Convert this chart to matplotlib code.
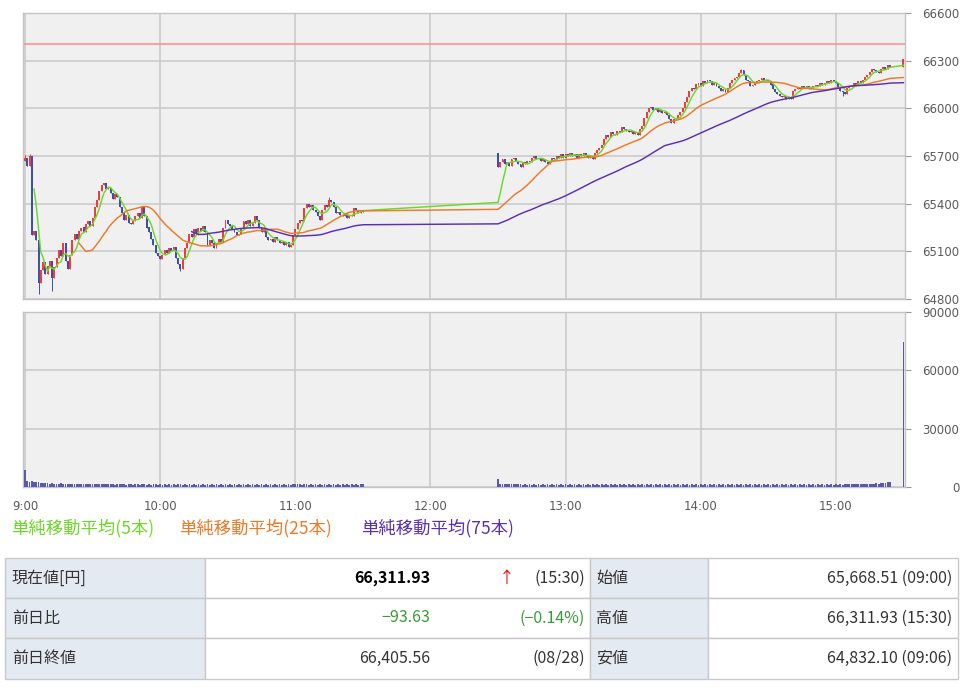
import matplotlib
matplotlib.use("Agg")
import matplotlib.pyplot as plt
from matplotlib.patches import Rectangle
import numpy as np
import pandas as pd

plt.rcParams['font.family'] = ['Noto Sans CJK JP', 'DejaVu Sans']

# ---------------- data (1-minute bars) ----------------
prev_close = 66405.56
am_open = 65668.51
pm_open = 65720.0

am_close = [
    65690, 65640, 65700, 65200, 65230, 65170, 64900, 64980, 65030, 64960,
    65010, 65040, 64930, 65000, 65060, 65110, 65070, 65150, 65040, 64990,
    65080, 65170, 65210, 65180, 65230, 65250, 65220, 65270, 65290, 65260,
    65310, 65380, 65420, 65480, 65520, 65530, 65490, 65500, 65470, 65430,
    65460, 65440, 65380, 65340, 65300, 65330, 65280, 65270, 65290, 65320,
    65340, 65310, 65380, 65320, 65250, 65220, 65180, 65140, 65090, 65070,
    65050, 65080, 65110, 65090, 65120, 65100, 65130, 65060, 65020, 64990,
    65060, 65120, 65150, 65210, 65190, 65240, 65210, 65250, 65230, 65260,
    65220, 65140, 65170, 65150, 65120, 65150, 65180, 65160, 65250, 65300,
    65270, 65260, 65240, 65220, 65200, 65210, 65250, 65290, 65270, 65300,
    65260, 65280, 65320, 65300, 65250, 65220, 65240, 65190, 65170, 65180,
    65160, 65190, 65170, 65150, 65160, 65140, 65160, 65130, 65140, 65200,
    65240, 65280, 65300, 65290, 65370, 65400, 65380, 65390, 65360, 65350,
    65320, 65300, 65360, 65390, 65380, 65420, 65410, 65380, 65340, 65350,
    65330, 65320, 65340, 65310, 65330, 65320, 65370, 65360, 65340, 65360,
    65350,
]

pm_close = [
    65630, 65660, 65680, 65650, 65660, 65640, 65680, 65690, 65670, 65650,
    65630, 65660, 65650, 65670, 65660, 65690, 65700, 65680, 65690, 65670,
    65680, 65660, 65650, 65670, 65690, 65680, 65700, 65690, 65710, 65690,
    65710, 65700, 65720, 65700, 65710, 65690, 65710, 65700, 65720, 65700,
    65690, 65700, 65680, 65720, 65740, 65750, 65770, 65810, 65830, 65820,
    65850, 65840, 65830, 65860, 65850, 65880, 65870, 65860, 65850, 65860,
    65840, 65850, 65830, 65870, 65890, 65940, 65980, 66000, 66010, 65990,
    66000, 65980, 65990, 65970, 65980, 65960, 65930, 65910, 65930, 65940,
    65960, 65980, 66000, 66040, 66070, 66110, 66130, 66120, 66150, 66160,
    66140, 66170, 66160, 66180, 66170, 66150, 66160, 66140, 66130, 66110,
    66120, 66100, 66130, 66160, 66180, 66190, 66200, 66220, 66240, 66210,
    66180, 66170, 66140, 66150, 66160, 66170, 66180, 66190, 66170, 66180,
    66170, 66150, 66120, 66100, 66090, 66080, 66070, 66080, 66060, 66070,
    66060, 66110, 66120, 66130, 66120, 66140, 66130, 66140, 66120, 66130,
    66140, 66150, 66140, 66160, 66150, 66160, 66170, 66160, 66180, 66170,
    66160, 66130, 66110, 66100, 66090, 66130, 66140, 66150, 66160, 66150,
    66170, 66160, 66180, 66200, 66210, 66230, 66250, 66240, 66230, 66220,
    66250, 66260, 66250, 66270, 66260,
    66311.93,
]

# extreme wicks (minute since 9:00 -> price)
wick_low = {6: 64832.10, 12: 64850, 69: 64975, 118: 65125, 363: 66075}
wick_high = {0: 65705, 2: 65710, 135: 65440, 318: 66245}

am_vol = [
    8800, 3300, 2700, 2900, 2500, 2600, 2800, 2200, 2000, 2300,
    1900, 1800, 2100, 1700, 1800, 1600, 1900, 1700, 1600, 1800,
    1500, 1700, 1600, 1400, 1600, 1500, 1700, 1400, 1500, 1600,
    1300, 1500, 1400, 1600, 1500, 1300, 1400, 1500, 1300, 1400,
    1200, 1400, 1300, 1500, 1300, 1200, 1400, 1300, 1200, 1400,
    1300, 1200, 1300, 1400, 1200, 1300, 1200, 1400, 1300, 1200,
    1300, 1200, 1400, 1200, 1300, 1200, 1300, 1200, 1400, 1300,
    1200, 1300, 1200, 1300, 1200, 1400, 1200, 1300, 1200, 1300,
    1200, 1300, 1200, 1300, 1200, 1300, 1200, 1400, 1200, 1300,
    1200, 1300, 1200, 1300, 1200, 1300, 1200, 1300, 1200, 1300,
    1200, 1300, 1200, 1300, 1200, 1300, 1200, 1300, 1200, 1300,
    1200, 1300, 1200, 1300, 1200, 1300, 1200, 1300, 1200, 1300,
    1300, 1400, 1300, 1200, 1400, 1300, 1200, 1300, 1200, 1300,
    1200, 1300, 1200, 1300, 1200, 1300, 1200, 1300, 1200, 1300,
    1200, 1300, 1200, 1300, 1200, 1300, 1200, 1300, 1200, 1300,
    1300,
]
pm_vol = [
    4300, 1600, 1500, 1400, 1500, 1300, 1400, 1300, 1400, 1300,
    1300, 1200, 1300, 1200, 1300, 1200, 1300, 1200, 1300, 1200,
    1300, 1200, 1300, 1200, 1300, 1200, 1300, 1200, 1300, 1200,
    1300, 1200, 1300, 1200, 1300, 1200, 1300, 1200, 1300, 1200,
    1300, 1200, 1300, 1200, 1300, 1200, 1300, 1200, 1300, 1200,
    1300, 1200, 1300, 1200, 1300, 1200, 1300, 1200, 1300, 1200,
    1300, 1200, 1300, 1200, 1300, 1200, 1300, 1200, 1300, 1200,
    1300, 1200, 1300, 1200, 1300, 1200, 1300, 1200, 1300, 1200,
    1300, 1200, 1300, 1200, 1300, 1200, 1300, 1200, 1300, 1200,
    1300, 1200, 1300, 1200, 1300, 1200, 1300, 1200, 1300, 1200,
    1300, 1200, 1300, 1200, 1300, 1200, 1300, 1200, 1300, 1200,
    1300, 1200, 1300, 1200, 1300, 1200, 1300, 1200, 1300, 1200,
    1300, 1200, 1300, 1200, 1300, 1200, 1300, 1200, 1300, 1200,
    1300, 1200, 1300, 1200, 1300, 1200, 1300, 1200, 1300, 1200,
    1300, 1200, 1300, 1200, 1300, 1200, 1300, 1200, 1300, 1200,
    1300, 1200, 1300, 1200, 1300, 1400, 1300, 1500, 1400, 1300,
    1500, 1400, 1600, 1500, 1700, 1600, 1800, 1700, 1900, 1800,
    2000, 2200, 2100, 2400, 2600,
    74500,
]

time_labels = ["9:00", "10:00", "11:00", "12:00", "13:00", "14:00", "15:00"]
ma_periods = [5, 25, 75]
ma_names = ["単純移動平均(5本)", "単純移動平均(25本)", "単純移動平均(75本)"]

table_rows = [
    ["現在値[円]", "66,311.93", "(15:30)", "始値", "65,668.51 (09:00)"],
    ["前日比", "−93.63", "(−0.14%)", "高値", "66,311.93 (15:30)"],
    ["前日終値", "66,405.56", "(08/28)", "安値", "64,832.10 (09:06)"],
]

# ---------------- assemble bars ----------------
# minutes since 9:00 : morning 9:00-11:30, afternoon 12:30-15:24, close 15:30
minutes = np.array(list(range(0, len(am_close))) +
                   list(range(210, 210 + len(pm_close) - 1)) + [390])
close = np.array(am_close + pm_close, dtype=float)
n_am = len(am_close)
opens = np.empty_like(close)
opens[0] = am_open
opens[1:n_am] = close[0:n_am - 1]
opens[n_am] = pm_open
opens[n_am + 1:] = close[n_am:-1]
highs = np.maximum(opens, close)
lows = np.minimum(opens, close)
pos = {int(m): i for i, m in enumerate(minutes)}
for k, v in wick_low.items():
    lows[pos[k]] = min(lows[pos[k]], v)
for k, v in wick_high.items():
    highs[pos[k]] = max(highs[pos[k]], v)
vol = np.array(am_vol + pm_vol, dtype=float)

# ---------------- figure ----------------
W, H = 966, 688
fig = plt.figure(figsize=(W / 100, H / 100), dpi=100)
fig.patch.set_facecolor("white")

ax_o = fig.add_axes([0, 0, 1, 1])
ax_o.set_xlim(0, W)
ax_o.set_ylim(H, 0)
ax_o.axis("off")
ax_o.patch.set_visible(False)

L, R = 23, 905
ax_p = fig.add_axes([L / W, 1 - 299 / H, (R - L) / W, (299 - 13) / H])
ax_v = fig.add_axes([L / W, 1 - 487 / H, (R - L) / W, (487 - 312) / H])

grid_c = "#cbcbcb"
bg_c = "#f0f0f0"
tick_times = [60 * i for i in range(len(time_labels))]
xlim = (-0.9, 390.7)
tick_font = dict(family="DejaVu Sans", size=8.5, color="#5a5a5a")

for ax in (ax_p, ax_v):
    ax.set_facecolor(bg_c)
    ax.set_xlim(*xlim)
    ax.yaxis.tick_right()
    ax.set_xticks(tick_times)
    ax.grid(True, color=grid_c, linewidth=1.2)
    ax.set_axisbelow(True)
    for s in ax.spines.values():
        s.set_color("#c4c4c4")
        s.set_linewidth(1.0)
    ax.tick_params(axis="y", colors="#9a9a9a", length=4, width=0.8, pad=35)
    ax.tick_params(axis="x", length=0)

# price panel
ax_p.set_ylim(64800, 66600)
p_ticks = list(range(64800, 66601, 300))
ax_p.set_yticks(p_ticks)
ax_p.set_yticklabels([str(v) for v in p_ticks], ha="right", **tick_font)
ax_p.set_xticklabels([])
ax_p.axhline(prev_close, color="#ff8a8a", linewidth=1.1, zorder=2)

up = close >= opens
col = np.where(up, "#f23c3c", "#3f4fa6")
ax_p.vlines(minutes, lows, highs, colors=col, linewidth=0.7, zorder=3)
body_h = np.maximum(np.abs(close - opens), 5)
body_b = np.minimum(close, opens)
ax_p.bar(minutes, body_h, bottom=body_b, width=0.85, color=col,
         linewidth=0, zorder=3)

ma_colors = ["#6ed82a", "#ec7a26", "#5a2fb8"]
s_close = pd.Series(close)
for p, c in zip(ma_periods, ma_colors):
    ma = s_close.rolling(p).mean().to_numpy()
    ax_p.plot(minutes, ma, color=c, linewidth=1.05, zorder=4)

# volume panel
ax_v.set_ylim(0, 90000)
v_ticks = [0, 30000, 60000, 90000]
ax_v.set_yticks(v_ticks)
ax_v.set_yticklabels([str(v) for v in v_ticks], ha="right", **tick_font)
ax_v.bar(minutes, vol, width=0.8, color="#5a5aa8", linewidth=0, zorder=3)
ax_v.set_xticklabels(time_labels, **tick_font)
ax_v.tick_params(axis="x", pad=9)

# legend line
leg_x = [11, 179, 361]
for x, t, c in zip(leg_x, ma_names, ma_colors):
    ax_o.text(x, 528, t, color=c, fontsize=12.5, va="center", ha="left")

# table
row_y = [558, 598, 638, 679]
cols = [(5, 205, True), (205, 590, False), (590, 708, True), (708, 958, False)]
for r in range(3):
    y0, y1 = row_y[r], row_y[r + 1]
    for (x0, x1, is_lbl) in cols:
        ax_o.add_patch(Rectangle((x0, y0), x1 - x0, y1 - y0,
                                 facecolor="#e3eaf2" if is_lbl else "white",
                                 edgecolor="#c9c9c9", linewidth=1.0))
txt_c = "#333333"
green = "#3a9a3a"
fs = 11.5
for r, row in enumerate(table_rows):
    yc = (row_y[r] + row_y[r + 1]) / 2
    ax_o.text(12, yc, row[0], fontsize=fs, color=txt_c, va="center")
    vc = green if r == 1 else txt_c
    if r == 0:
        ax_o.text(430, yc, row[1], fontsize=fs, color="black",
                  fontweight="bold", va="center", ha="right")
        ax_o.text(507, yc, "↑", fontsize=fs, color="#e01010",
                  va="center", ha="center")
    else:
        ax_o.text(430, yc, row[1], fontsize=fs, color=vc, va="center", ha="right")
    ax_o.text(585, yc, row[2], fontsize=fs, color=vc, va="center", ha="right")
    ax_o.text(596, yc, row[3], fontsize=fs, color=txt_c, va="center")
    ax_o.text(952, yc, row[4], fontsize=fs, color=txt_c, va="center", ha="right")

fig.savefig("out.png", dpi=100, facecolor="white")
